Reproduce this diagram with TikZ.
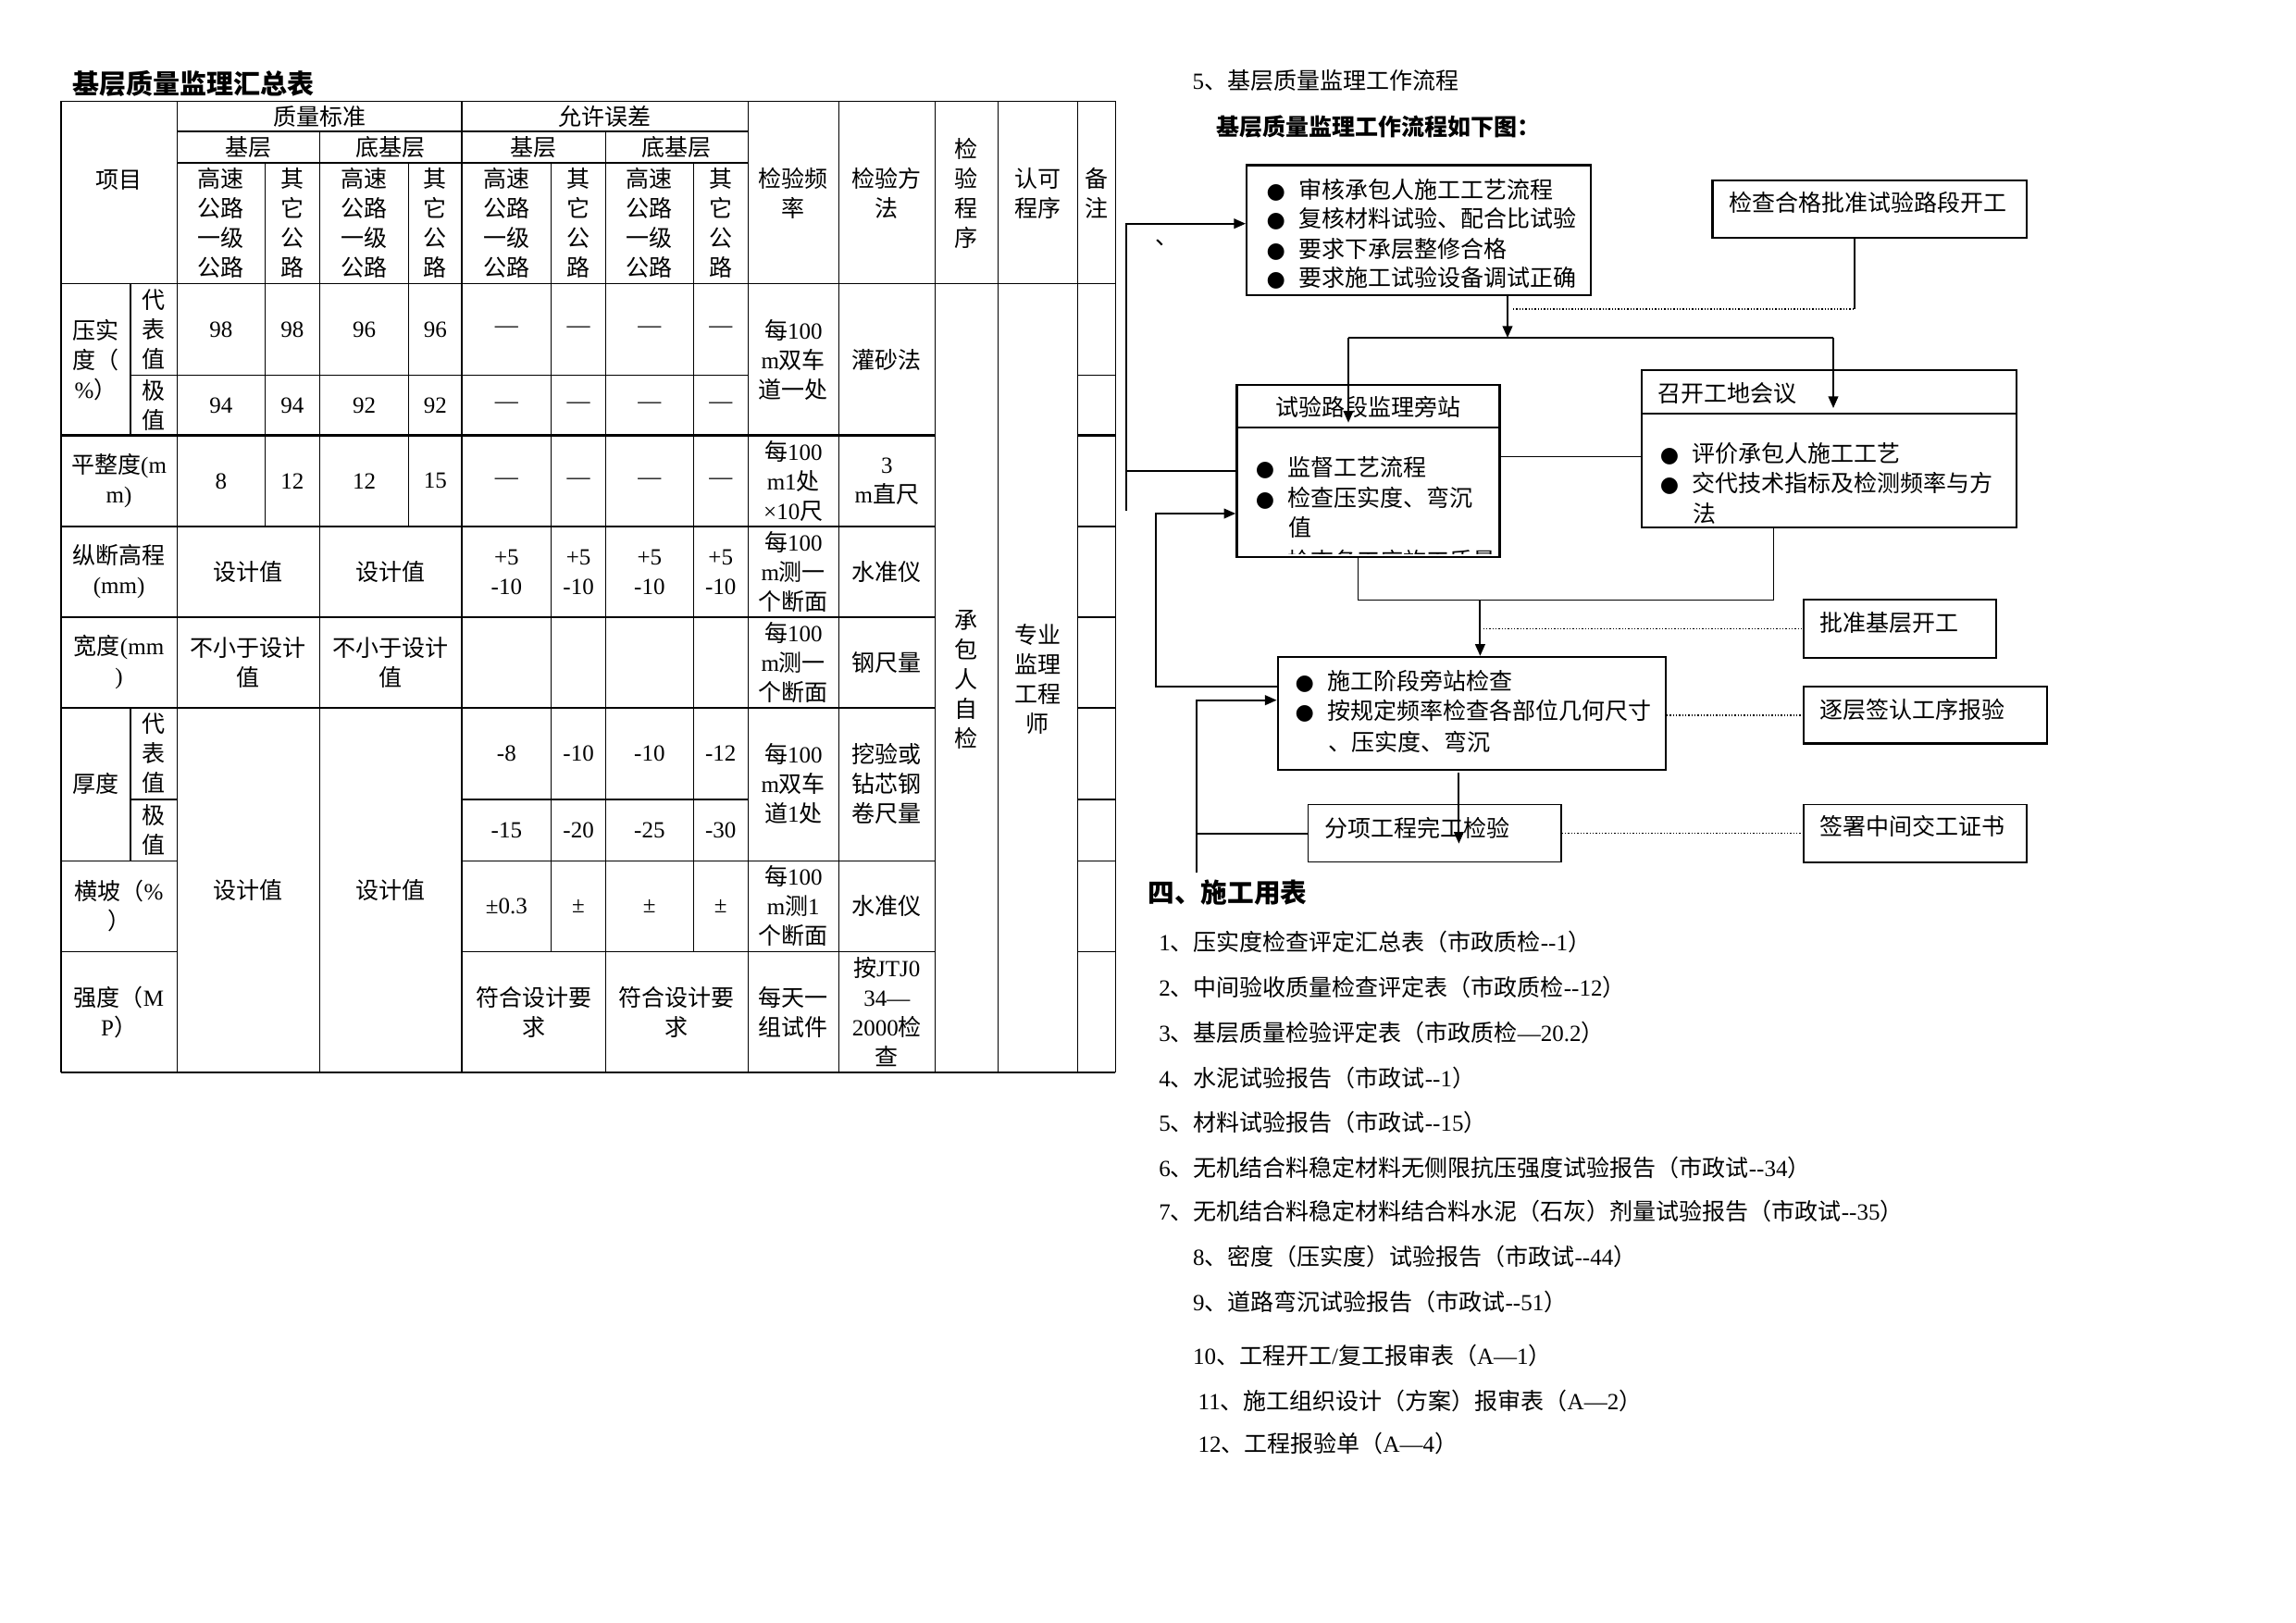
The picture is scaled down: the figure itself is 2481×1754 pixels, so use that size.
\documentclass[tikz,border=0pt]{standalone}
\usepackage{fontspec}
\setmainfont{Liberation Serif}
\newfontfamily\cjkfont{Noto Sans CJK SC}
\newfontfamily\symfont{DejaVu Sans}
\usetikzlibrary{arrows.meta}

% switch to the CJK face for CJK characters
\XeTeXinterchartokenstate=1
\newXeTeXintercharclass\cjkclass
\newcount\cjkcode
\cjkcode="2E80
\loop
  \XeTeXcharclass\cjkcode=\cjkclass
  \advance\cjkcode by 1
\ifnum\cjkcode<"A000 \repeat
\cjkcode="FF00
\loop
  \XeTeXcharclass\cjkcode=\cjkclass
  \advance\cjkcode by 1
\ifnum\cjkcode<"FFF0 \repeat
\XeTeXinterchartoks 0 \cjkclass = {\cjkfont}
\XeTeXinterchartoks 4095 \cjkclass = {\cjkfont}
\XeTeXinterchartoks \cjkclass 0 = {\rmfamily}
\XeTeXinterchartoks \cjkclass 4095 = {\rmfamily}

\newcommand\tabfont{\fontsize{7.5}{9.6}\selectfont}
\newcommand\bul{\makebox[10.5pt][l]{\fontsize{7}{7}\symfont ●}}

\tikzset{
  tabcell/.style={inner sep=0pt,align=center,font=\tabfont},
  ftext/.style={inner sep=0pt,anchor=west,font=\tabfont},
  fbox/.style={draw,line width=0.7pt,inner sep=0pt},
  fthinbox/.style={draw,line width=0.4pt,inner sep=0pt},
  fline/.style={line width=0.55pt},
  fthin/.style={line width=0.35pt},
  fdot/.style={line width=0.4pt,dash pattern=on 0.4pt off 0.6pt},
  farrow/.style={-{Triangle[length=3.8pt,width=3.2pt]}}
}

\begin{document}
\begin{tikzpicture}[x=0.3pt,y=-0.3pt,line width=0.4pt]
	\useasboundingbox (0,0) rectangle (2481,1754);
	\fill[white] (0,0) rectangle (2481,1754);

	\node[anchor=west,inner sep=0pt,font=\fontsize{8.7}{10}\selectfont\bfseries] (title) at (77.8,90.7) {基层质量监理汇总表};

	% table rules
	\foreach \x/\a/\b in {65.9/109.3/1159,141.1/306.7/470.7,141.1/765/930.3,191.3/109.3/1159,286.2/176/569,345.5/142/1159,441.6/176/569,498.9/109.3/1159,595.8/176/1028.3,654.4/142/1159,749.3/176/1028.3,808.2/109.3/1159,906.3/109.3/1159,1010.3/109.3/1159,1078.3/109.3/1159,1164.5/109.3/1159,1205.2/109.3/1159}
		\draw (\x,\a) -- (\x,\b);
	\foreach \y/\a/\b in {109.3/65.9/1205.2,142/191.3/808.2,176/191.3/808.2,306.7/65.9/1205.2,405.7/141.1/808.2,405.7/1164.5/1205.2,569/65.9/1010.3,569/1164.5/1205.2,667/65.9/1010.3,667/1164.5/1205.2,765/65.9/1010.3,765/1164.5/1205.2,864/141.1/191.3,864/498.9/808.2,864/1164.5/1205.2,930.3/65.9/191.3,930.3/498.9/1010.3,930.3/1164.5/1205.2,1028.3/65.9/191.3,1028.3/498.9/1010.3,1028.3/1164.5/1205.2,1159/65.9/1205.2}
		\draw (\a,\y) -- (\b,\y);
	\draw[line width=0.8pt] (65.9,470.7) -- (1010.3,470.7);
	\draw[line width=0.8pt] (1164.5,470.7) -- (1205.2,470.7);

	% header
	\node[tabcell] (h_item) at (128.6,195) {项目};
	\node[tabcell] (h_std) at (345.3,125.65) {质量标准};
	\node[tabcell] (h_tol) at (653.6,125.65) {允许误差};
	\node[tabcell] (h_base1) at (268.4,159) {基层};
	\node[tabcell] (h_sub1) at (422.25,159) {底基层};
	\node[tabcell] (h_base2) at (576.65,159) {基层};
	\node[tabcell] (h_sub2) at (731.3,159) {底基层};
	\foreach \x [count=\i] in {238.75,393.55,547.35,701.85}
		\node[tabcell] (h_fast\i) at (\x,241.35) {高速\\公路\\一级\\公路};
	\foreach \x [count=\i] in {315.85,470.25,625.1,778.75}
		\node[tabcell] (h_other\i) at (\x,241.35) {其\\它\\公\\路};
	\node[tabcell] (h_freq) at (857.25,209) {检验频\\率};
	\node[tabcell] (h_meth) at (958.3,209) {检验方\\法};
	\node[tabcell] (h_proc) at (1044.3,209) {检\\验\\程\\序};
	\node[tabcell] (h_appr) at (1121.4,209) {认可\\程序};
	\node[tabcell] (h_note) at (1184.85,209) {备\\注};

	% 压实度
	\node[tabcell] (r_comp) at (103.5,388.7) {压实\\度（\\\%）};
	\node[tabcell] (r_rep1) at (166.2,356.2) {代\\表\\值};
	\node[tabcell] (r_lim1) at (166.2,438.2) {极\\值};
	\foreach \x/\v [count=\i] in {238.75/98,315.85/98,393.55/96,470.25/96}
		\node[tabcell] (v_rep\i) at (\x,356.2) {\v};
	\foreach \x/\v [count=\i] in {238.75/94,315.85/94,393.55/92,470.25/92}
		\node[tabcell] (v_lim\i) at (\x,438.2) {\v};
	\foreach \x [count=\i] in {547.35,625.1,701.85,778.75} {
		\node[tabcell] (d_rep\i) at (\x,356.2) {—};
		\node[tabcell] (d_lim\i) at (\x,438.2) {—};
		\node[tabcell] (d_flat\i) at (\x,519.85) {—};
		\node[tabcell] (t_elev\i) at (\x,618) {+5\\-10};
	}
	\node[tabcell] (f_comp) at (857.25,388.7) {每100\\m双车\\道一处};
	\node[tabcell] (m_comp) at (958.3,388.7) {灌砂法};
	\node[tabcell] (p_self) at (1044.3,734) {承\\包\\人\\自\\检};
	\node[tabcell] (p_eng) at (1121.4,734) {专业\\监理\\工程\\师};

	% 平整度
	\node[tabcell] (r_flat) at (128.6,519.85) {平整度(m\\m)};
	\foreach \x/\v [count=\i] in {238.75/8,315.85/12,393.55/12,470.25/15}
		\node[tabcell] (v_flat\i) at (\x,519.85) {\v};
	\node[tabcell] (f_flat) at (857.25,519.85) {每100\\m1处\\×10尺};
	\node[tabcell] (m_flat) at (958.3,519.85) {3\\m直尺};

	% 纵断高程
	\node[tabcell] (r_elev) at (128.6,618) {纵断高程\\(mm)};
	\node[tabcell] (v_elev1) at (268.4,618) {设计值};
	\node[tabcell] (v_elev2) at (422.25,618) {设计值};
	\node[tabcell] (f_elev) at (857.25,618) {每100\\m测一\\个断面};
	\node[tabcell] (m_elev) at (958.3,618) {水准仪};

	% 宽度
	\node[tabcell] (r_width) at (128.6,716) {宽度(mm\\)};
	\node[tabcell] (v_width1) at (268.4,716) {不小于设计\\值};
	\node[tabcell] (v_width2) at (422.25,716) {不小于设计\\值};
	\node[tabcell] (f_width) at (857.25,716) {每100\\m测一\\个断面};
	\node[tabcell] (m_width) at (958.3,716) {钢尺量};

	% 厚度
	\node[tabcell] (r_thick) at (103.5,847.15) {厚度};
	\node[tabcell] (r_rep2) at (166.2,814.5) {代\\表\\值};
	\node[tabcell] (r_lim2) at (166.2,897.15) {极\\值};
	\node[tabcell] (v_design1) at (268.4,962) {设计值};
	\node[tabcell] (v_design2) at (422.25,962) {设计值};
	\foreach \x/\v [count=\i] in {547.35/-8,625.1/-10,701.85/-10,778.75/-12}
		\node[tabcell] (t_rep\i) at (\x,814.5) {\v};
	\foreach \x/\v [count=\i] in {547.35/-15,625.1/-20,701.85/-25,778.75/-30}
		\node[tabcell] (t_lim\i) at (\x,897.15) {\v};
	\node[tabcell] (f_thick) at (857.25,847.15) {每100\\m双车\\道1处};
	\node[tabcell] (m_thick) at (958.3,847.15) {挖验或\\钻芯钢\\卷尺量};

	% 横坡
	\node[tabcell] (r_slope) at (128.6,979.3) {横坡（\%\\）};
	\foreach \x/\v [count=\i] in {547.35/±0.3,625.1/±,701.85/±,778.75/±}
		\node[tabcell] (t_slope\i) at (\x,979.3) {\v};
	\node[tabcell] (f_slope) at (857.25,979.3) {每100\\m测1\\个断面};
	\node[tabcell] (m_slope) at (958.3,979.3) {水准仪};

	% 强度
	\node[tabcell] (r_str) at (128.6,1093.65) {强度（M\\P）};
	\node[tabcell] (v_str1) at (576.65,1093.65) {符合设计要\\求};
	\node[tabcell] (v_str2) at (731.3,1093.65) {符合设计要\\求};
	\node[tabcell] (f_str) at (857.25,1093.65) {每天一\\组试件};
	\node[tabcell] (m_str) at (958.3,1093.65) {按JTJ0\\34—\\2000检\\查};

	% flow chart
	\node[ftext] (fc_head) at (1288,86.7) {5、基层质量监理工作流程};
	\node[ftext,font=\tabfont\bfseries] (fc_title) at (1314,136.7) {基层质量监理工作流程如下图：};
	\node[anchor=base west,inner sep=0pt,font=\tabfont] (tick) at (1247.5,264.7) {、};

	\node[fbox,minimum width=111.6pt,minimum height=42.2pt] (b_review) at (1533.2,248.7) {};
	\foreach \y/\t [count=\i] in {205/审核承包人施工工艺流程,236.7/复核材料试验、配合比试验,269.3/要求下承层整修合格,300/要求施工试验设备调试正确}
		\node[ftext] (t_review\i) at (1368,\y) {\bul\t};

	\node[fbox,minimum width=101.8pt,minimum height=18.5pt] (b_check) at (2020.15,225.85) {};
	\node[ftext] (t_check) at (1868,219.3) {检查合格批准试验路段开工};

	\node[fbox,minimum width=85.2pt,minimum height=55.8pt] (b_trial) at (1478.35,508.7) {};
	\draw[line width=0.7pt] (1336.4,462.3) -- (1620.3,462.3);
	\node[tabcell] (t_trial) at (1478.35,440) {试验路段监理旁站};
	\node[ftext] (t_trial1) at (1356.2,505) {\bul 监督工艺流程};
	\node[ftext] (t_trial2) at (1356.2,538.3) {\bul 检查压实度、弯沉};
	\node[ftext] (t_trial3) at (1391.8,570) {值};
	\begin{scope}
		\clip (1340,588) rectangle (1617,598.5);
		\node[ftext] (t_trial4) at (1356.2,606) {\bul 检查各工序施工质量};
	\end{scope}

	\node[fbox,minimum width=121.4pt,minimum height=51pt] (b_meet) at (1976.45,485) {};
	\draw[line width=0.7pt] (1774.2,446.7) -- (2178.7,446.7);
	\node[ftext] (t_meet) at (1791,425) {召开工地会议};
	\node[ftext] (t_meet1) at (1793.2,490) {\bul 评价承包人施工工艺};
	\node[ftext] (t_meet2) at (1793.2,522.7) {\bul 交代技术指标及检测频率与方};
	\node[ftext] (t_meet3) at (1828.7,555) {法};

	\node[fbox,minimum width=125.7pt,minimum height=36.5pt] (b_stage) at (1590.25,770.85) {};
	\node[ftext] (t_stage1) at (1398.9,736.7) {\bul 施工阶段旁站检查};
	\node[ftext] (t_stage2) at (1398.9,768.3) {\bul 按规定频率检查各部位几何尺寸};
	\node[ftext] (t_stage3) at (1435.3,801.7) {、压实度、弯沉};

	\node[fthinbox,minimum width=82.1pt,minimum height=18.7pt] (b_part) at (1550.3,900.5) {};
	\node[ftext] (t_part) at (1430.5,895) {分项工程完工检验};
	\node[fbox,line width=0.6pt,minimum width=62.3pt,minimum height=18.7pt] (b_approve) at (2053.1,679.5) {};
	\node[ftext] (t_approve) at (1966,673.3) {批准基层开工};
	\node[fbox,minimum width=78.9pt,minimum height=18.5pt] (b_sign) at (2080.8,772.5) {};
	\node[ftext] (t_sign) at (1966,766.7) {逐层签认工序报验};
	\node[fthinbox,line width=0.5pt,minimum width=72.2pt,minimum height=18.7pt] (b_cert) at (2069.55,900.5) {};
	\node[ftext] (t_cert) at (1966,893.3) {签署中间交工证书};

	% connectors
	\coordinate (l1_bot) at (1216.6,551.7);
	\coordinate (l1_top) at (1216.6,241.7);
	\coordinate (l1_mid) at (1216.6,509);
	\draw[fline,farrow] (l1_bot) -- (l1_top) -- (l1_top -| b_review.west);
	\draw[fline] (l1_mid) -- (l1_mid -| b_trial.west);

	\coordinate (l2_top) at (1249.4,555);
	\coordinate (l2_bot) at (1249.4,741.7);
	\draw[fline,farrow] (l2_bot -| b_stage.west) -- (l2_bot) -- (l2_top) -- (l2_top -| b_trial.west);

	\coordinate (l3_top) at (1292.9,756.7);
	\coordinate (l3_mid) at (1292.9,900.7);
	\coordinate (l3_bot) at (1292.9,943.3);
	\draw[fline,farrow] (l3_bot) -- (l3_top) -- (l3_top -| b_stage.west);
	\draw[fline] (l3_mid) -- (l3_mid -| b_part.west);

	\coordinate (s_mid) at (1629,365);
	\coordinate (s_left) at (1457,365);
	\coordinate (s_right) at (1981,365);
	\coordinate (s_left_end) at (1457,456.7);
	\coordinate (s_right_end) at (1981,441);
	\draw[fline,farrow] (b_review.south -| s_mid) -- (s_mid);
	\draw[fthin] (s_left) -- (s_right);
	\draw[fline,farrow] (s_left) -- (s_left_end);
	\draw[fline,farrow] (s_right) -- (s_right_end);

	\coordinate (d1_a) at (1635,334);
	\coordinate (d1_b) at (2004,334);
	\draw[fdot] (d1_a) -- (d1_b);
	\draw[fline] (d1_b) -- (d1_b |- b_check.south);

	\coordinate (k1) at (1700,493.3);
	\draw[fthin] (b_trial.east |- k1) -- (k1 -| b_meet.west);

	\coordinate (m_left) at (1467.7,648.3);
	\coordinate (m_right) at (1916.5,648.3);
	\coordinate (m_mid) at (1599.4,648.3);
	\draw[fthin] (b_trial.south -| m_left) -- (m_left) -- (m_right) -- (m_right |- b_meet.south);
	\draw[fline,farrow] (m_mid) -- (m_mid |- b_stage.north);

	\coordinate (d2) at (1602.5,679.3);
	\draw[fdot] (d2) -- (d2 -| b_approve.west);
	\coordinate (d3) at (1850,772.7);
	\draw[fdot,line width=0.6pt] (b_stage.east |- d3) -- (d3 -| b_sign.west);
	\coordinate (a5_top) at (1576.4,835);
	\coordinate (a5_end) at (1576.4,911.7);
	\draw[fline,farrow] (a5_top) -- (a5_end);
	\coordinate (d4) at (1800,900.7);
	\draw[fdot] (b_part.east |- d4) -- (d4 -| b_cert.west);

	% list of forms
	\node[ftext,font=\fontsize{8.6}{10}\selectfont\bfseries] (sec4) at (1239.9,964.5) {四、施工用表};
	\node[ftext] (form1) at (1251.7,1017.6) {1、压实度检查评定汇总表（市政质检-{}-1）};
	\node[ftext] (form2) at (1251.7,1066.5) {2、中间验收质量检查评定表（市政质检-{}-12）};
	\node[ftext] (form3) at (1251.7,1115.5) {3、基层质量检验评定表（市政质检—20.2）};
	\node[ftext] (form4) at (1251.7,1164.5) {4、水泥试验报告（市政试-{}-1）};
	\node[ftext] (form5) at (1251.7,1212.7) {5、材料试验报告（市政试-{}-15）};
	\node[ftext] (form6) at (1251.7,1262.4) {6、无机结合料稳定材料无侧限抗压强度试验报告（市政试-{}-34）};
	\node[ftext] (form7) at (1251.7,1309.4) {7、无机结合料稳定材料结合料水泥（石灰）剂量试验报告（市政试-{}-35）};
	\node[ftext] (form8) at (1288.5,1358.4) {8、密度（压实度）试验报告（市政试-{}-44）};
	\node[ftext] (form9) at (1288.5,1406.5) {9、道路弯沉试验报告（市政试-{}-51）};
	\node[ftext] (form10) at (1288.5,1464.5) {10、工程开工/复工报审表（A—1）};
	\node[ftext] (form11) at (1294,1513.5) {11、施工组织设计（方案）报审表（A—2）};
	\node[ftext] (form12) at (1294,1560.4) {12、工程报验单（A—4）};
\end{tikzpicture}
\end{document}
